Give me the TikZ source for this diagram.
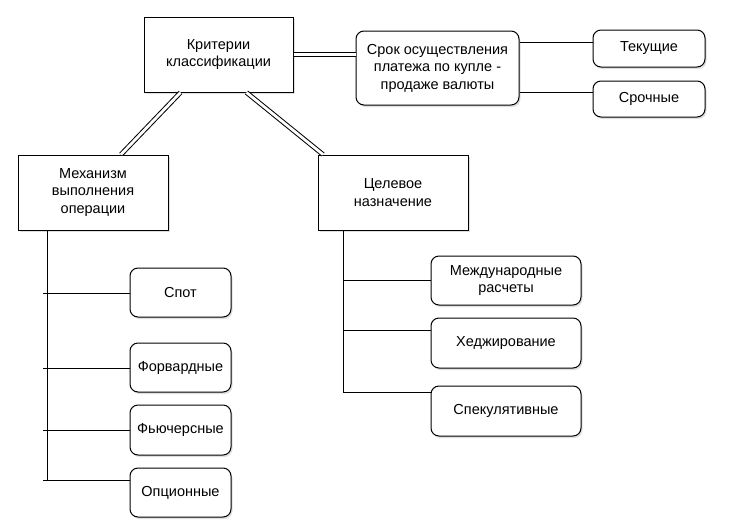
\documentclass[tikz,border=0pt]{standalone}
\usepackage{fontspec}
\setmainfont{Liberation Sans}
\usetikzlibrary{shadows}
\begin{document}
\begin{tikzpicture}[x=1pt, y=-1pt,
  every node/.style={font=\fontsize{14.5}{17.5}\selectfont, align=center},
  box/.style={draw, fill=white, line width=1pt, inner sep=1pt,
    drop shadow={shadow xshift=1.5pt, shadow yshift=-2pt, opacity=0.25, fill=gray}},
  rbox/.style={box, rounded corners=8pt},
  link/.style={line width=1pt},
  dlink/.style={line width=1pt, double, double distance=2.8pt}]
\useasboundingbox (0,0) rectangle (732,531);

\node[box, minimum width=149pt, minimum height=75pt] (krit) at (218.5,54.5) {Критерии\\классификации};
\node[rbox, minimum width=163pt, minimum height=74pt] (srok) at (437.5,68) {Срок осуществления\\платежа по купле -\\продаже валюты};
\node[rbox, minimum width=112pt, minimum height=37pt] (tek) at (649,48.5) {Текущие};
\node[rbox, minimum width=112pt, minimum height=36pt] (sroch) at (649,99) {Срочные};

\node[box, minimum width=150pt, minimum height=75pt] (mech) at (93,192.5) {Механизм\\выполнения\\операции};
\node[rbox, minimum width=101pt, minimum height=49pt] (spot) at (180.5,292.5) {Спот};
\node[rbox, minimum width=101pt, minimum height=49pt] (forw) at (180.5,367.5) {Форвардные};
\node[rbox, minimum width=101pt, minimum height=50pt] (fut) at (180.5,430) {Фьючерсные};
\node[rbox, minimum width=101pt, minimum height=49pt] (opc) at (180.5,492.5) {Опционные};

\node[box, minimum width=150pt, minimum height=75pt] (tsel) at (393,192.5) {Целевое\\назначение};
\node[rbox, minimum width=150pt, minimum height=49pt] (mezh) at (506,280.5) {Международные\\расчеты};
\node[rbox, minimum width=150pt, minimum height=50pt] (hedg) at (506,343) {Хеджирование};
\node[rbox, minimum width=150pt, minimum height=50pt] (spek) at (506,411) {Спекулятивные};

\coordinate (mtop) at (47,230);
\coordinate (mbot) at (47,480);
\coordinate (m1) at (43,293);
\coordinate (m2) at (43,368);
\coordinate (m3) at (43,430);
\coordinate (m4) at (43,480);

\coordinate (ttop) at (343,230);
\coordinate (t1) at (343,280);
\coordinate (t2) at (343,330);
\coordinate (t3) at (343,392);

\draw[dlink] (krit.east) -- (krit.east -| srok.west);
\draw[dlink] ([xshift=-38pt]krit.south) -- ([xshift=28pt]mech.north);
\draw[dlink] ([xshift=28pt]krit.south) -- ([xshift=-70pt]tsel.north);
\draw[link] ([yshift=26pt]srok.east) -- ([yshift=26pt]srok.east -| tek.west);
\draw[link] ([yshift=-24pt]srok.east) -- ([yshift=-24pt]srok.east -| sroch.west);

\draw[link] (mtop) -- (mbot);
\draw[link] (m1) -- (m1 -| spot.west);
\draw[link] (m2) -- (m2 -| forw.west);
\draw[link] (m3) -- (m3 -| fut.west);
\draw[link] (m4) -- (m4 -| opc.west);

\draw[link] (ttop) -- (t3);
\draw[link] (t1) -- (t1 -| mezh.west);
\draw[link] (t2) -- (t2 -| hedg.west);
\draw[link] (t3) -- (t3 -| spek.west);
\end{tikzpicture}
\end{document}
